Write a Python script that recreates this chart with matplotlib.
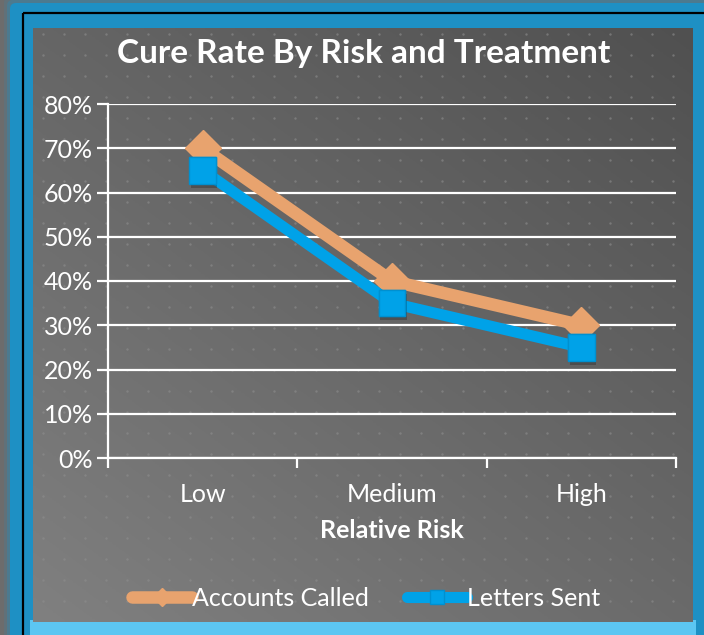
import numpy as np
import matplotlib.pyplot as plt
import matplotlib.patches as patches
import matplotlib.patheffects as pe

plt.rcParams['font.family'] = ['Lato', 'DejaVu Sans']

categories = ['Low', 'Medium', 'High']
accounts_called = [0.70, 0.40, 0.30]
letters_sent = [0.65, 0.35, 0.25]
y_ticks = [0.0, 0.1, 0.2, 0.3, 0.4, 0.5, 0.6, 0.7, 0.8]

W, H = 704, 635
fig = plt.figure(figsize=(W / 100, H / 100), dpi=100)
fig.patch.set_facecolor('#6c6c6c')

# background layer in pixel coords
bg = fig.add_axes([0, 0, 1, 1])
bg.set_xlim(0, W)
bg.set_ylim(H, 0)
bg.axis('off')

# outer dots
dx = np.arange(-6, W, 21)
dy = np.arange(-8, H, 21)
gx, gy = np.meshgrid(dx, dy)
bg.scatter(gx.ravel(), gy.ravel(), s=3, color='#7c7c7c', lw=0, zorder=0)

# blue glowing frame
for pad, a in [(6, 0.15), (3, 0.3), (0, 1.0)]:
    bg.add_patch(patches.FancyBboxPatch((10 - pad, 3 - pad), 720 + 2 * pad, 650 + 2 * pad,
                                        boxstyle='round,pad=0,rounding_size=6',
                                        fc='#1e90c4', ec='none', alpha=a, zorder=1))
bg.add_patch(patches.Rectangle((22.5, 13), 720, 650, fc='none', ec='black', lw=1.6, zorder=2))

# inner panel with gradient (light bottom-left, dark top-right)
x0, y0, x1, y1 = 33, 28, 693, 622
xx, yy = np.meshgrid(np.linspace(0, 1, 200), np.linspace(0, 1, 200))
grad = 0.45 * xx + 0.55 * (1 - yy)
c_light = np.array([0x80, 0x80, 0x80]) / 255
c_dark = np.array([0x50, 0x50, 0x50]) / 255
img = c_light + (c_dark - c_light) * grad[..., None]
bg.add_patch(patches.Rectangle((x0 - 3, y1 - 2), x1 - x0 + 6, 20, fc='#5cc6f2', ec='none', zorder=2))
bg.imshow(img, extent=(x0, x1, y1, y0), aspect='auto', zorder=3)

# panel dots
px = np.arange(x0 + 10, x1, 21)
py = np.arange(y0 + 6, y1, 21)
gx, gy = np.meshgrid(px, py)
bg.scatter(gx.ravel(), gy.ravel(), s=3, color='#8e8e8e', alpha=0.6, lw=0, zorder=4)

# title
bg.text(364, 54, 'Cure Rate By Risk and Treatment', color='white', fontsize=24,
        fontweight='bold', ha='center', va='center', zorder=5)

# chart
ax = fig.add_axes([108 / W, 1 - 458 / H, (676 - 108) / W, (458 - 104) / H])
ax.patch.set_alpha(0)
x = np.arange(len(categories))
ax.set_xlim(-0.5, len(categories) - 0.5)
ax.set_ylim(0, 0.8)

ax.set_yticks(y_ticks)
ax.set_yticklabels([f'{int(round(v * 100))}%' for v in y_ticks])
ax.yaxis.grid(True, color='white', lw=1.6)
ax.set_axisbelow(True)

ax.set_xticks(x)
ax.set_xticklabels(categories)
ax.set_xticks(np.arange(-0.5, len(categories)), minor=True)
ax.tick_params(axis='x', which='major', length=0, pad=18, labelsize=18, labelcolor='white')
ax.tick_params(axis='x', which='minor', length=7, width=1.6, color='white')
ax.tick_params(axis='y', length=8, width=1.6, color='white', labelsize=18, labelcolor='white', pad=3)

for s in ['top', 'right']:
    ax.spines[s].set_visible(False)
for s in ['left', 'bottom']:
    ax.spines[s].set_color('white')
    ax.spines[s].set_linewidth(1.6)

ax.set_xlabel('Relative Risk', color='white', fontsize=18, fontweight='bold', labelpad=9)

shadow = [pe.SimplePatchShadow(offset=(1, -3), alpha=0.22, shadow_rgbFace='black'), pe.Normal()]
ax.plot(x, accounts_called, color='#e8a36e', lw=9, marker='D', ms=18, mec='#e8a36e',
        solid_capstyle='round', label='Accounts Called', clip_on=False, zorder=3)
ax.plot(x, letters_sent, color='#00a2e8', lw=8, marker='s', ms=19, mec='#0090d0', mew=1,
        solid_capstyle='round', label='Letters Sent', clip_on=False, zorder=4)
ax.plot(x, letters_sent, ls='none', marker='s', ms=19, color='#00a2e8', mec='#0090d0', mew=1,
        clip_on=False, zorder=5, path_effects=shadow)

leg = ax.legend(loc='center', bbox_to_anchor=((366 - 108) / 568, (458 - 598) / (458 - 104)), ncol=2,
                frameon=False, fontsize=18, labelcolor='white', handlelength=2.4,
                handletextpad=0.0, columnspacing=1.5, markerscale=0.5)

fig.savefig('out.png', dpi=100, facecolor=fig.get_facecolor())
